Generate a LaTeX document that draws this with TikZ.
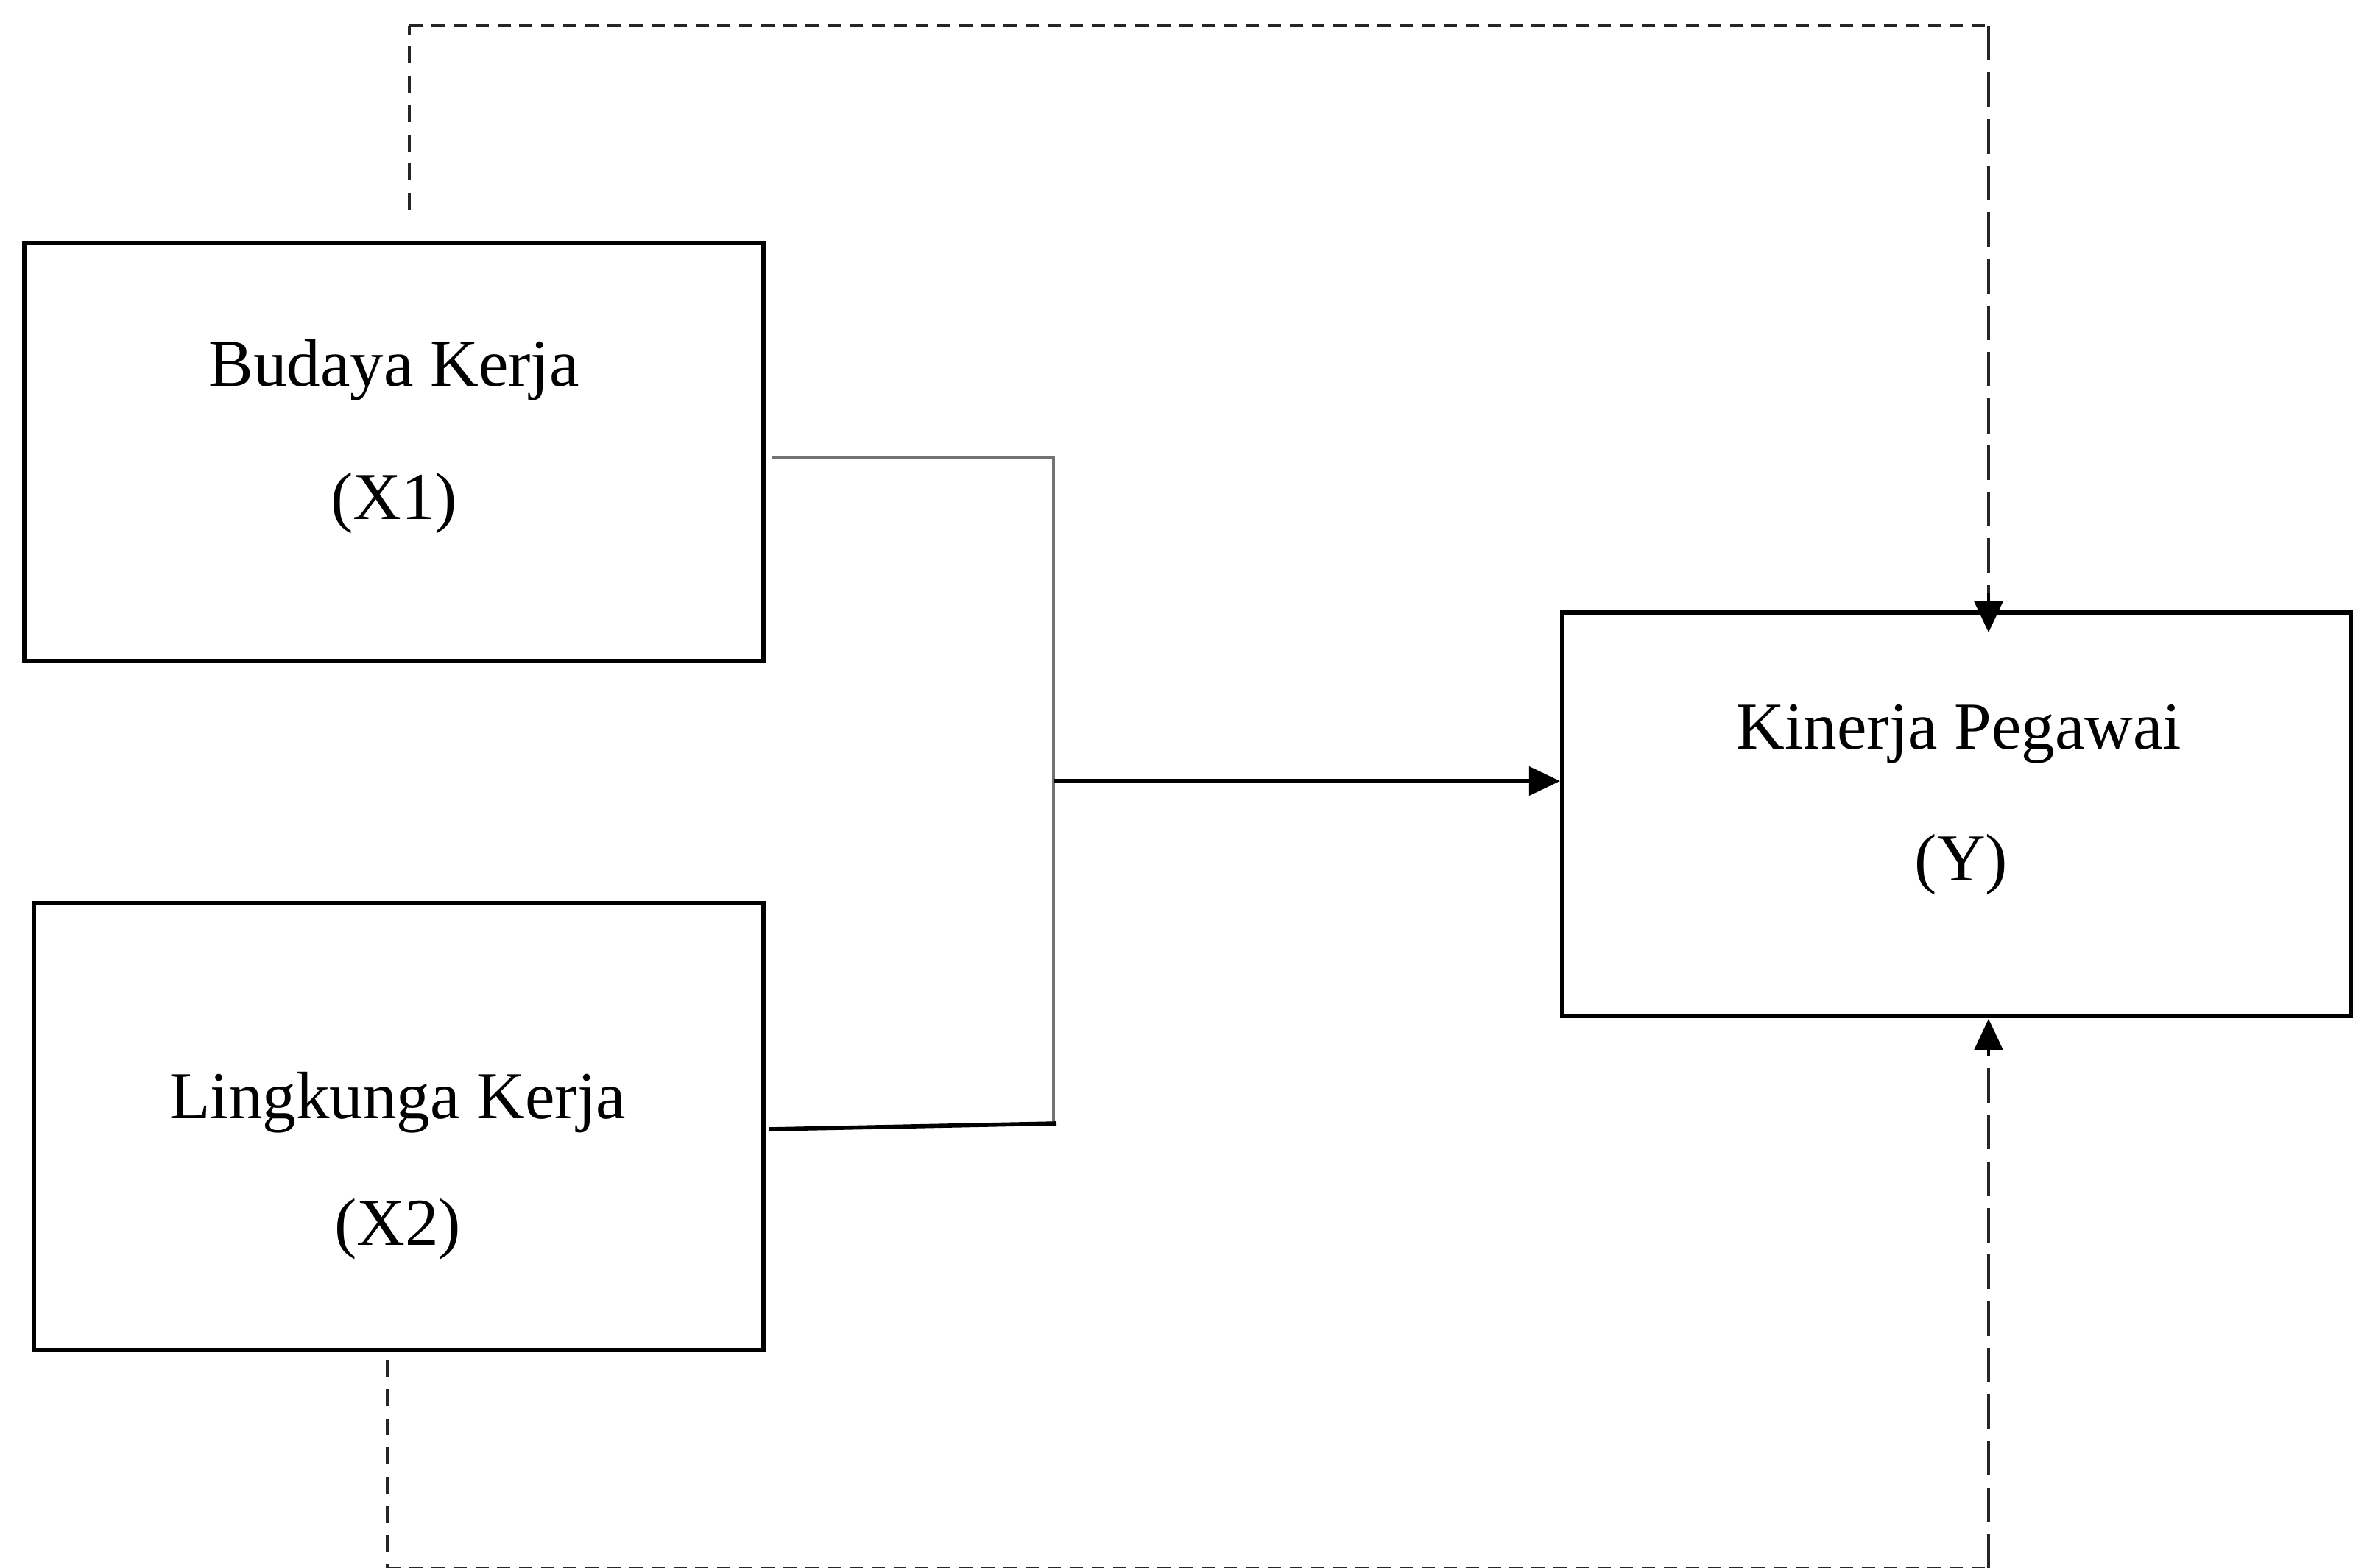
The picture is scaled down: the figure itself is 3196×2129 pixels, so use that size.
\documentclass[tikz,border=0pt]{standalone}
\usepackage{fontspec}
\setmainfont{Liberation Serif}
\usetikzlibrary{arrows.meta}
\begin{document}
\begin{tikzpicture}[x=0.01cm,y=-0.01cm,
  box/.style={draw=black,line width=1.7pt,rectangle,inner sep=0pt},
  lbl/.style={anchor=base,inner sep=0pt,font=\fontsize{25.9pt}{31pt}\selectfont},
  dashbase/.style={line width=1.25pt,black!85},
  dashshort/.style={dashbase,dash pattern=on 6.5pt off 4.8pt},
  dashlong/.style={dashbase,dash pattern=on 13.4pt off 4.6pt},
  dashhoriz/.style={dashbase,dash pattern=on 5.1pt off 3.4pt},
  thinline/.style={line width=0.9pt,black!55},
  thickline/.style={line width=1.6pt,black},
  tip/.style={-{Triangle[length=12pt,width=11pt]}}
]
\useasboundingbox (0,0) rectangle (3196,2129);
\fill[white] (0,0) rectangle (3196,2129);

% boxes
\node[box,minimum width=1004*0.01cm,minimum height=568*0.01cm] (X1) at (535,614) {};
\node[box,minimum width=991*0.01cm,minimum height=607*0.01cm] (X2) at (541.5,1530.5) {};
\node[box,minimum width=1072*0.01cm,minimum height=548*0.01cm] (Y) at (2658,1106) {};

% labels
\node[lbl] (x1a) at (535,524) {Budaya Kerja};
\node[lbl] (x1b) at (535,705) {(X1)};
\node[lbl] (x2a) at (540,1519) {Lingkunga Kerja};
\node[lbl] (x2b) at (540,1691) {(X2)};
\node[lbl] (ya) at (2661,1017) {Kinerja Pegawai};
\node[lbl] (yb) at (2664,1196) {(Y)};

% solid connectors
\coordinate (a1) at (1049,621);
\coordinate (a2) at (1431,621);
\coordinate (jn) at (1431,1061);
\coordinate (a3) at (1431,1526);
\coordinate (b1) at (1045,1534);
\coordinate (b2) at (1435,1526);
\draw[thinline] (a1) -- (a2) -- (a3);
\draw[thickline] (b1) -- (b2);
\draw[thickline,tip] (jn) -- (jn -| Y.west);

% dashed connector X1 -> Y (top)
\coordinate (t0) at (556,285);
\coordinate (t1) at (556,35);
\coordinate (t2) at (2701,35);
\coordinate (t4) at (2701,805);
\coordinate (t3) at (2701,859);
\draw[dashshort] (t0) -- (t1);
\draw[dashhoriz] (t1) -- (t2);
\draw[dashlong] (t2) -- (t4);
\draw[line width=1.1pt,tip] (t4) -- (t3);

% dashed connector X2 -> Y (bottom)
\coordinate (u0) at (526,1847);
\coordinate (u1) at (526,2131);
\coordinate (u2) at (2701,2131);
\coordinate (u4) at (2701,1435);
\coordinate (u3) at (2701,1384);
\draw[dashshort] (u0) -- (u1);
\draw[dashhoriz] (u1) -- (u2);
\draw[dashlong] (u2) -- (u4);
\draw[line width=1.1pt,tip] (u4) -- (u3);
\end{tikzpicture}
\end{document}
